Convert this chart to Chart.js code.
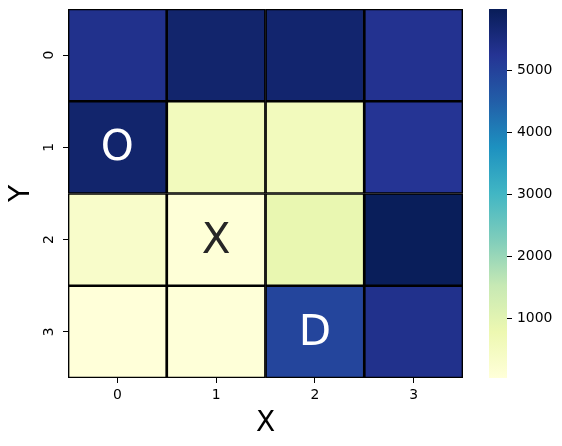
<!DOCTYPE html>
<html>
<head>
<meta charset="utf-8">
<script src="https://cdn.jsdelivr.net/npm/chart.js@4.4.0/dist/chart.umd.min.js"></script>
<style>
  body { margin: 0; background: #fff; }
  #wrap { position: relative; width: 562px; height: 446px; }
  #heat { position: absolute; left: 0; top: 0; }
  #cbar { position: absolute; left: 470px; top: 0; }
</style>
</head>
<body>
<div id="wrap">
  <canvas id="heat" width="470" height="446"></canvas>
  <canvas id="cbar" width="92" height="446"></canvas>
</div>
<script>
// --- Data ---
const xLabels = ["0", "1", "2", "3"];
const yLabels = ["0", "1", "2", "3"];
const row0 = [5350, 5740, 5720, 5300];
const row1 = [5740, 560, 560, 5250];
const row2 = [320, 80, 850, 5960];
const row3 = [37, 60, 4950, 5350];
const rows = [row0, row1, row2, row3];
const marks0 = ["", "", "", ""];
const marks1 = ["O", "", "", ""];
const marks2 = ["", "X", "", ""];
const marks3 = ["", "", "D", ""];
const marks = [marks0, marks1, marks2, marks3];
const cbMin = 37;
const cbMax = 5989;
const cbTicks = [1000, 2000, 3000, 4000, 5000];

const FONT = "'DejaVu Sans', sans-serif";

// --- YlGnBu colormap ---
const YLGNBU = [
  "#ffffd9", "#edf8b1", "#c7e9b4", "#7fcdbb", "#41b6c4",
  "#1d91c0", "#225ea8", "#253494", "#081d58",
];

function hexToRgb(h) {
  return [1, 3, 5].map((i) => parseInt(h.slice(i, i + 2), 16));
}

function cmapRgb(t) {
  t = Math.max(0, Math.min(1, t));
  const pos = t * (YLGNBU.length - 1);
  const i = Math.min(Math.floor(pos), YLGNBU.length - 2);
  const f = pos - i;
  const a = hexToRgb(YLGNBU[i]);
  const b = hexToRgb(YLGNBU[i + 1]);
  return a.map((v, k) => Math.round(v + (b[k] - v) * f));
}

function valueColor(v) {
  const c = cmapRgb((v - cbMin) / (cbMax - cbMin));
  return `rgb(${c[0]},${c[1]},${c[2]})`;
}

// seaborn-style text colour choice from luminance
function textColor(v) {
  const c = cmapRgb((v - cbMin) / (cbMax - cbMin)).map((x) => {
    x /= 255;
    return x <= 0.03928 ? x / 12.92 : Math.pow((x + 0.055) / 1.055, 2.4);
  });
  const lum = 0.2126 * c[0] + 0.7152 * c[1] + 0.0722 * c[2];
  return lum > 0.408 ? "#262626" : "#ffffff";
}

// scales should not ask the layout for extra room around the plot
function noPad(s) {
  s.paddingTop = 0;
  s.paddingBottom = 0;
  s.paddingLeft = 0;
  s.paddingRight = 0;
}

// --- Annotation plugin: letters at cell centres ---
const cellText = {
  id: "cellText",
  afterDatasetsDraw(chart) {
    const ctx = chart.ctx;
    ctx.save();
    ctx.font = `42px ${FONT}`;
    ctx.textAlign = "center";
    ctx.textBaseline = "alphabetic";
    const cap = ctx.measureText("X").actualBoundingBoxAscent;
    rows.forEach((row, r) => {
      const meta = chart.getDatasetMeta(r);
      row.forEach((v, c) => {
        const txt = marks[r][c];
        if (!txt) return;
        const el = meta.data[c];
        const cy = (el.y + el.base) / 2;
        ctx.fillStyle = textColor(v);
        ctx.fillText(txt, el.x, cy + cap / 2 - 2.5);
      });
    });
    ctx.restore();
  },
};

// --- Heatmap (stacked bars, one dataset per row) ---
new Chart(document.getElementById("heat").getContext("2d"), {
  type: "bar",
  data: {
    labels: xLabels,
    datasets: rows.map((row, r) => ({
      label: "row " + yLabels[r],
      data: row.map(() => 1),
      backgroundColor: row.map(valueColor),
      borderColor: "#000",
      borderWidth: 1.7,
      borderSkipped: false,
      barPercentage: 1,
      categoryPercentage: 1,
      stack: "s",
    })),
  },
  options: {
    responsive: false,
    animation: false,
    devicePixelRatio: 1,
    layout: { padding: { left: 0, top: 9, right: 7, bottom: 0 } },
    plugins: { legend: { display: false }, tooltip: { enabled: false } },
    scales: {
      x: {
        stacked: true,
        offset: true,
        grid: { offset: false, drawOnChartArea: false, tickLength: 5, color: "#000" },
        border: { display: false },
        ticks: { color: "#000", font: { family: FONT, size: 13.9 }, padding: 4 },
        title: {
          display: true,
          text: "X",
          color: "#000",
          font: { family: FONT, size: 28 },
          padding: { top: 0, bottom: 5 },
        },
        afterFit: (s) => { s.height = 68; noPad(s); },
      },
      y: {
        stacked: true,
        reverse: true,
        min: 0,
        max: yLabels.length,
        grid: { drawOnChartArea: false, tickLength: 5, color: "#000" },
        border: { display: false },
        afterBuildTicks: (s) => {
          s.ticks = yLabels.map((l, i) => ({ value: i + 0.5 }));
        },
        ticks: {
          color: "#000",
          font: { family: FONT, size: 13.9 },
          minRotation: 90,
          maxRotation: 90,
          crossAlign: "center",
          padding: 9.6,
          callback: (v, i) => yLabels[i],
        },
        title: {
          display: true,
          text: "Y",
          color: "#000",
          font: { family: FONT, size: 28 },
          padding: { top: 5, bottom: 0 },
        },
        afterFit: (s) => { s.width = 68; noPad(s); },
      },
    },
  },
  plugins: [cellText],
});

// --- Colour bar (one floating bar with a gradient fill) ---
function cbGradient(ctx) {
  const area = ctx.chart.chartArea;
  if (!area) return "#ffffd9";
  const g = ctx.chart.ctx.createLinearGradient(0, area.bottom, 0, area.top);
  YLGNBU.forEach((c, i) => g.addColorStop(i / (YLGNBU.length - 1), c));
  return g;
}

new Chart(document.getElementById("cbar").getContext("2d"), {
  type: "bar",
  data: {
    labels: [""],
    datasets: [
      {
        data: [[cbMin, cbMax]],
        backgroundColor: cbGradient,
        borderWidth: 0,
        barPercentage: 1,
        categoryPercentage: 1,
      },
    ],
  },
  options: {
    responsive: false,
    animation: false,
    devicePixelRatio: 1,
    layout: { padding: { left: 19, top: 9, right: 0, bottom: 68 } },
    plugins: { legend: { display: false }, tooltip: { enabled: false } },
    scales: {
      x: { display: false },
      y: {
        position: "right",
        min: cbMin,
        max: cbMax,
        grid: { drawOnChartArea: false, tickLength: 5, color: "#000" },
        border: { display: false },
        afterBuildTicks: (s) => {
          s.ticks = cbTicks.map((v) => ({ value: v }));
        },
        ticks: {
          color: "#000",
          font: { family: FONT, size: 13.9 },
          padding: 5,
          callback: (v) => String(v),
        },
        afterFit: (s) => { s.width = 55; noPad(s); },
      },
    },
  },
});
</script>
</body>
</html>
